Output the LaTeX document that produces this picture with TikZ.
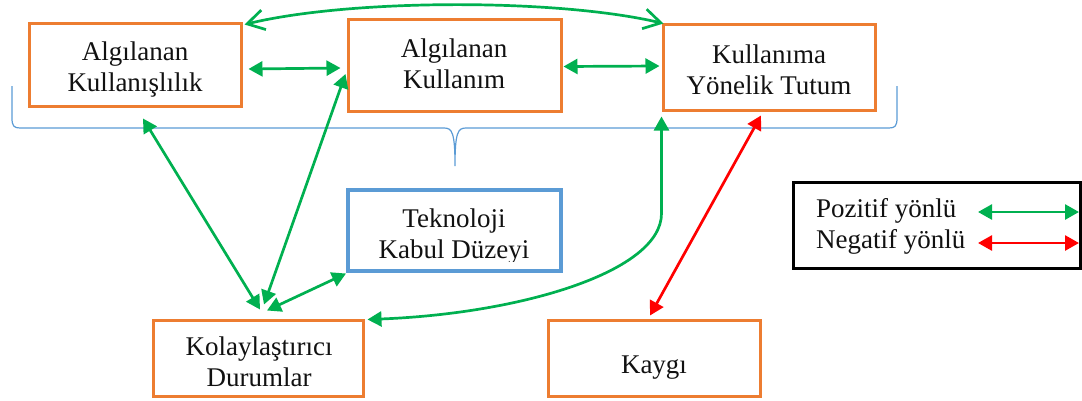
\documentclass[tikz,border=0pt]{standalone}
\usepackage{fontspec}
\setmainfont{Liberation Serif}
\usetikzlibrary{arrows.meta,calc}
\definecolor{orng}{HTML}{ED7D31}
\definecolor{blu}{HTML}{5B9BD5}
\definecolor{grn}{HTML}{00B050}
\definecolor{rd}{HTML}{FF0000}
\definecolor{ink}{HTML}{111111}
\begin{document}
\begin{tikzpicture}[x=1pt,y=-1pt,
  box/.style={draw=orng, line width=3pt, rectangle, inner sep=0pt},
  tbox/.style={draw=blu, line width=4pt, rectangle, inner sep=0pt},
  lbox/.style={draw=black, line width=3pt, rectangle, inner sep=0pt},
  txt/.style={align=center, font=\fontsize{27}{31}\selectfont, text=ink, anchor=base, inner sep=0pt},
  ltxt/.style={align=left, font=\fontsize{27}{31}\selectfont, text=ink, anchor=base west, inner sep=0pt},
  gar/.style={draw=grn, line width=2.7pt, {Triangle[length=14pt,width=15pt]}-{Triangle[length=14pt,width=15pt]}},
  rar/.style={draw=rd, line width=2.7pt, {Triangle[length=14pt,width=15pt]}-{Triangle[length=14pt,width=15pt]}},
  oar/.style={draw=grn, line width=2.7pt, {Straight Barb[length=17pt,width=20pt]}-{Straight Barb[length=17pt,width=20pt]}},
  brace/.style={draw=blu, line width=1.2pt}
]
\useasboundingbox (0,0) rectangle (1082,400);

% boxes
\node[box, minimum width=212pt, minimum height=83pt] (A) at (135,64.5) {};
\node[box, minimum width=213pt, minimum height=92pt] (B) at (454.5,65) {};
\node[box, minimum width=212pt, minimum height=86pt] (C) at (769,67) {};
\node[tbox, minimum width=213pt, minimum height=81pt] (T) at (454.5,230) {};
\node[box, minimum width=210pt, minimum height=76pt] (K) at (258,358) {};
\node[box, minimum width=212pt, minimum height=76pt] (Kg) at (654,358) {};
\node[lbox, minimum width=287.5pt, minimum height=86pt] (L) at (936.75,225) {};

% texts (anchor base = baseline of the last line)
\node[txt] (At) at (135,91) {Algılanan\\Kullanışlılık};
\node[txt] (Bt) at (454,88) {Algılanan\\Kullanım};
\node[txt] (Ct) at (769,94) {Kullanıma\\Yönelik Tutum};
\begin{scope}
  \clip (340,185) rectangle (570,261);
  \node[txt] (Tt) at (454,258) {Teknoloji\\Kabul Düzeyi};
\end{scope}
\node[txt] (Kt) at (259,386) {Kolaylaştırıcı\\Durumlar};
\node[txt] (Kgt) at (654,373) {Kaygı};
\node[ltxt] (Lt) at (816,248) {Pozitif yönlü\\Negatif yönlü};

% brace
\draw[brace] (12,86) -- (12,118) .. controls (12,126) and (14,128) .. (20,128)
  -- (444,128) .. controls (452,128) and (455,132) .. (455,166)
  .. controls (455,132) and (458,128) .. (466,128)
  -- (889,128) .. controls (895,128) and (897,126) .. (897,118) -- (897,86);

% connectors
\draw[gar] ($(A.east)+(6,4.5)$) -- ($(B.west)+(-6,3)$);
\draw[gar] ($(B.east)+(1,1.5)$) -- ($(C.west)+(-2,-1)$);
\draw[oar] ($(A.north east)+(2,3)$) .. controls +(107,-26) and +(-105,-25) .. ($(C.north west)+(2,1)$);
\draw[gar] ($(A.south)+(8,11)$) -- ($(K.north)+(2,-9)$);
\draw[gar] ($(B.west)+(-1,9)$) -- ($(K.north)+(6,-14)$);
\draw[gar] ($(T.south west)+(0,1)$) -- ($(K.north)+(9,-8)$);
\draw[gar] ($(C.south west)+(0,5)$) -- ++(0,97) .. controls +(0,58) and +(154,-6) .. ($(K.north east)+(3,1)$);
\draw[rar] ($(C.south)+(-8,4)$) -- ($(Kg.north)+(-4,-3)$);

% legend arrows
\coordinate (g1) at ($(L.east)+(-104,-13)$);
\coordinate (g2) at ($(L.east)+(-3,-13)$);
\coordinate (r1) at ($(L.east)+(-104,18)$);
\coordinate (r2) at ($(L.east)+(-3,18)$);
\draw[gar] (g1) -- (g2);
\draw[rar] (r1) -- (r2);
\end{tikzpicture}
\end{document}
